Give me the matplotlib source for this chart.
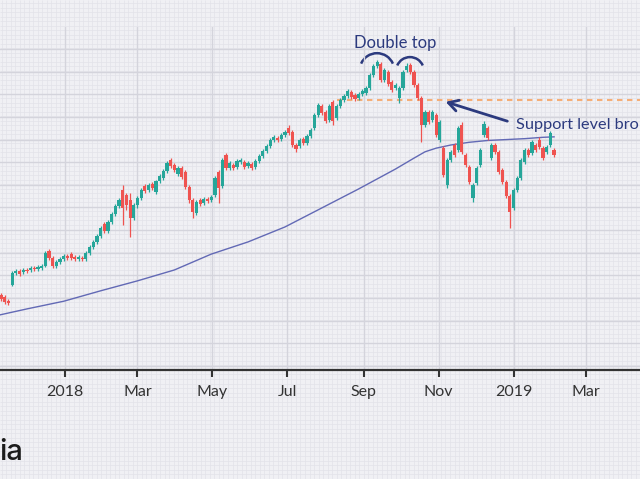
import matplotlib
matplotlib.use("Agg")
import matplotlib.pyplot as plt
import matplotlib.dates as mdates
from matplotlib.patches import Arc
from matplotlib.ticker import MultipleLocator, FuncFormatter
import numpy as np
import pandas as pd

plt.rcParams['font.family'] = ['Lato', 'DejaVu Sans']

# one candle every 3 days
dates = pd.date_range('2017-11-01', periods=154, freq='3D')

opens = [97.7, 96.8, 96.3, 95.7, 95.2, 94.3, 97.9, 100.5, 101.0, 100.7,
         101.2, 101.2, 101.6, 101.4, 101.6, 102.1, 105.4, 103.8, 102.1, 103.0,
         103.6, 104.3, 104.7, 104.1, 103.6, 103.8, 103.6, 104.9, 106.3, 107.4,
         108.7, 111.3, 109.8, 111.8, 113.6, 115.3, 118.9, 117.8, 116.7, 112.7,
         115.6, 117.1, 119.7, 118.9, 120.2, 118.4, 120.8, 121.5, 123.1, 125.5,
         124.4, 122.4, 123.7, 122.8, 119.5, 116.7, 113.8, 116.7, 116.0, 116.9,
         116.7, 117.8, 122.8, 119.7, 126.6, 123.7, 124.4, 124.0, 125.0, 125.0,
         124.2, 124.6, 124.0, 125.3, 126.4, 127.5, 128.6, 129.9, 130.3, 130.1,
         131.0, 132.5, 131.7, 128.8, 128.6, 130.1, 129.2, 130.8, 132.5, 135.4,
         137.4, 136.1, 134.3, 138.3, 134.8, 137.4, 138.7, 139.6, 140.5, 139.8,
         139.2, 140.1, 140.3, 141.4, 144.3, 146.2, 146.7, 143.2, 144.9, 142.7,
         141.4, 139.2, 141.4, 145.4, 146.5, 144.9, 142.1, 139.2, 133.2, 136.1,
         134.3, 135.4, 129.9, 128.1, 120.0, 125.5, 128.8, 127.7, 133.2, 126.6,
         124.0, 117.1, 120.4, 124.4, 131.0, 132.5, 125.9, 128.8, 127.3, 123.3,
         120.6, 117.5, 114.9, 118.9, 121.5, 125.0, 127.7, 127.0, 128.8, 129.9,
         128.1, 127.3, 128.8, 127.7]
closes = [96.8, 96.1, 95.5, 94.8, 94.1, 93.9, 100.5, 101.0, 100.3, 101.2,
          101.0, 101.6, 101.4, 101.9, 102.1, 104.9, 103.8, 102.1, 103.0, 103.6,
          104.3, 103.8, 103.8, 103.6, 104.1, 103.6, 104.9, 106.3, 107.4, 108.7,
          110.5, 109.8, 111.8, 113.6, 115.3, 116.7, 114.9, 115.6, 112.7, 115.6,
          117.1, 118.9, 118.6, 120.0, 119.3, 120.8, 122.0, 123.1, 124.8, 124.2,
          123.3, 123.7, 121.7, 119.5, 116.7, 114.0, 116.2, 115.8, 116.9, 116.4,
          117.3, 121.5, 119.3, 125.5, 123.7, 124.8, 123.7, 125.3, 125.5, 124.0,
          124.8, 123.7, 125.3, 126.4, 127.5, 128.6, 129.9, 130.6, 129.9, 131.0,
          131.7, 131.4, 128.8, 127.9, 129.9, 129.2, 130.8, 132.1, 135.4, 137.6,
          135.9, 134.1, 137.4, 134.1, 137.4, 138.7, 139.6, 140.7, 139.4, 139.0,
          140.1, 140.7, 141.4, 144.3, 146.2, 147.1, 143.2, 145.4, 142.3, 140.9,
          142.1, 141.4, 144.9, 146.2, 144.9, 142.1, 139.2, 133.2, 136.1, 133.9,
          136.1, 131.0, 133.9, 122.2, 125.5, 127.3, 126.6, 132.5, 127.3, 124.4,
          120.6, 120.0, 123.7, 127.7, 133.4, 130.3, 128.8, 127.3, 122.8, 120.6,
          117.5, 114.0, 118.9, 121.5, 125.5, 127.7, 126.6, 129.5, 127.7, 128.4,
          125.9, 128.4, 131.4, 126.6]
highs = [98.1, 97.2, 96.8, 96.1, 95.7, 94.8, 101.0, 101.4, 101.4, 101.6,
         101.6, 102.1, 102.1, 102.3, 102.5, 105.4, 105.8, 104.3, 103.4, 104.1,
         104.7, 104.7, 105.2, 104.5, 104.5, 104.3, 105.4, 106.7, 107.8, 109.1,
         110.9, 111.8, 112.2, 114.0, 115.8, 117.1, 120.0, 118.2, 118.2, 116.0,
         117.5, 119.3, 120.2, 120.4, 120.6, 121.1, 122.4, 123.5, 125.3, 125.9,
         124.8, 124.2, 124.2, 123.3, 120.0, 117.1, 116.7, 117.1, 117.3, 117.3,
         117.8, 121.9, 123.3, 125.9, 127.0, 125.3, 124.8, 125.7, 125.9, 125.5,
         125.3, 125.0, 125.7, 126.8, 127.9, 129.0, 130.3, 131.0, 130.8, 131.4,
         132.1, 133.2, 132.1, 129.2, 130.3, 130.6, 131.2, 132.5, 135.9, 138.1,
         137.9, 136.5, 137.9, 138.7, 137.9, 139.2, 140.1, 141.2, 140.9, 140.3,
         140.5, 141.2, 141.8, 144.7, 146.7, 147.6, 147.1, 145.8, 145.4, 143.2,
         142.5, 141.8, 145.4, 146.9, 146.9, 145.4, 142.5, 139.6, 136.5, 136.5,
         136.5, 135.9, 134.3, 128.6, 125.9, 127.7, 129.2, 133.0, 133.9, 127.0,
         124.4, 120.4, 124.2, 128.1, 134.1, 133.0, 129.2, 129.2, 127.7, 123.7,
         121.1, 118.0, 119.3, 121.9, 125.9, 128.1, 128.1, 129.9, 129.2, 130.6,
         128.6, 128.8, 131.9, 128.1]
lows = [96.3, 95.7, 95.0, 94.3, 93.7, 93.5, 97.7, 100.1, 99.9, 100.3,
        100.5, 100.7, 101.0, 101.0, 101.2, 101.9, 103.4, 101.6, 101.6, 102.5,
        103.2, 103.4, 103.4, 103.2, 103.2, 103.2, 103.2, 104.5, 105.8, 106.9,
        108.3, 109.4, 109.4, 111.3, 113.1, 114.9, 111.1, 114.4, 108.5, 112.2,
        114.9, 116.7, 118.2, 118.4, 118.9, 118.0, 120.4, 121.1, 122.6, 123.7,
        122.8, 122.0, 121.3, 119.1, 116.0, 112.7, 113.3, 115.3, 115.6, 116.0,
        116.2, 117.3, 116.0, 119.3, 123.3, 123.3, 123.3, 123.5, 124.6, 123.5,
        123.7, 123.3, 123.5, 124.8, 125.9, 127.0, 128.1, 129.5, 129.5, 129.7,
        130.6, 131.0, 128.4, 127.3, 128.1, 128.8, 128.8, 130.3, 132.1, 135.0,
        135.4, 133.6, 133.9, 133.2, 134.3, 137.0, 138.3, 139.2, 139.0, 138.5,
        138.7, 139.6, 139.8, 140.9, 143.8, 145.8, 142.7, 142.7, 141.8, 140.5,
        140.9, 138.1, 140.9, 144.9, 144.5, 141.6, 138.7, 129.5, 132.8, 133.4,
        133.9, 130.6, 129.5, 121.7, 119.3, 125.0, 126.1, 127.3, 126.8, 124.0,
        120.2, 116.2, 120.0, 124.0, 130.6, 129.9, 125.5, 126.8, 122.4, 120.2,
        117.1, 110.4, 114.4, 118.4, 121.1, 124.6, 126.1, 126.6, 127.3, 127.9,
        125.5, 126.8, 128.4, 126.1]

# long moving average, read at some candle positions
ma_idx = [0, 10, 20, 30, 40, 50, 60, 70, 80, 90, 100, 105, 110, 115, 118, 121,
          125, 130, 135, 140, 145, 150, 153]
ma_vals = [90.8, 92.6, 94.3, 96.6, 98.8, 101.2, 104.7, 107.4, 110.7, 114.9,
           119.1, 121.3, 123.5, 125.9, 127.3, 128.1, 128.8, 129.4, 129.8, 130.0,
           130.2, 130.5, 130.6]

support_start = '2018-08-10'
support_level = 138.7

navy = '#2c3a7e'
green = '#26a69a'
red = '#ef5350'
W, H = 640, 479

fig = plt.figure(figsize=(6.4, 4.79), dpi=100)
fig.patch.set_facecolor('#f0f0f4')

# graph paper texture behind everything
bg = fig.add_axes([0, 0, 1, 1], zorder=0)
bg.set_xlim(0, W)
bg.set_ylim(H, 0)
bg.vlines(np.arange(1.5, W, 4.53), 0, H, color='#e2e2e9', lw=0.5)
bg.hlines(np.arange(3.0, H, 4.53), 0, W, color='#e2e2e9', lw=0.5)
bg.axis('off')

# main axes runs past the picture edges (the image is a crop)
ax = fig.add_axes([-5 / W, 1 - 370 / H, 650 / W, 343 / H], zorder=1)
ax.patch.set_alpha(0)

o = np.array(opens)
c = np.array(closes)
hi = np.array(highs)
lo = np.array(lows)
xd = mdates.date2num(dates)
cols = np.where(c >= o, green, red)

ax.vlines(xd, lo, hi, colors=cols, lw=0.9, zorder=3)
ax.bar(xd, np.abs(c - o), bottom=np.minimum(o, c), width=2.6, color=cols,
       zorder=4, linewidth=0)

ax.plot(xd[ma_idx], ma_vals, color='#6269b5', lw=1.0, zorder=2)

ax.hlines(support_level, mdates.date2num(pd.Timestamp(support_start)),
          mdates.date2num(pd.Timestamp('2019-06-01')), color='#f5ae78',
          lw=1.5, linestyles=(0, (2.6, 2.2)), zorder=1)

x0 = mdates.date2num(pd.Timestamp('2018-01-01'))
ppd = 1.2288
ax.set_xlim(x0 - 70 / ppd, x0 + 580 / ppd)
ax.set_ylim(79.11, 154.86)

ax.xaxis.set_major_locator(mdates.MonthLocator(bymonth=[1, 3, 5, 7, 9, 11]))
ax.xaxis.set_major_formatter(FuncFormatter(
    lambda v, p: mdates.num2date(v).strftime('%Y' if mdates.num2date(v).month == 1 else '%b')))
ax.yaxis.set_major_locator(MultipleLocator(5))
ax.grid(True, color='#d4d4dc', lw=1.0, zorder=0)
ax.set_axisbelow(True)
for s in ['top', 'right', 'left']:
    ax.spines[s].set_visible(False)
ax.spines['bottom'].set_color('#333333')
ax.spines['bottom'].set_linewidth(1.6)
ax.tick_params(axis='x', length=5, width=1.5, color='#333333', pad=6,
               labelsize=11.5, labelcolor='#333333')
ax.tick_params(axis='y', length=0, labelleft=False)

# annotations
fig.text(395 / W, 1 - 48 / H, 'Double top', ha='center', va='baseline',
         fontsize=12, color=navy)
for cx, cy, r in [(377, 70.5, 17.3), (410, 71.0, 13.9)]:
    fig.add_artist(Arc((cx / W, 1 - cy / H), 2 * r / W, 2 * r / H, theta1=30,
                       theta2=150, transform=fig.transFigure, color=navy, lw=1.8))
ax.annotate('', xy=(443, H - 101), xycoords='figure pixels',
            xytext=(510, H - 122), textcoords='figure pixels',
            arrowprops=dict(arrowstyle='->,head_length=0.7,head_width=0.4',
                            color=navy, lw=2))
fig.text(516 / W, 1 - 125 / H, 'Support level bro', ha='left', va='center',
         fontsize=11.7, color=navy)

fig.text(-1 / W, 1 - 453 / H, 'ia', ha='left', va='center', fontsize=21,
         color='#1b1b1b', family=['Inter', 'DejaVu Sans'], fontweight='medium')

fig.savefig('out.png', dpi=100, facecolor=fig.get_facecolor())
